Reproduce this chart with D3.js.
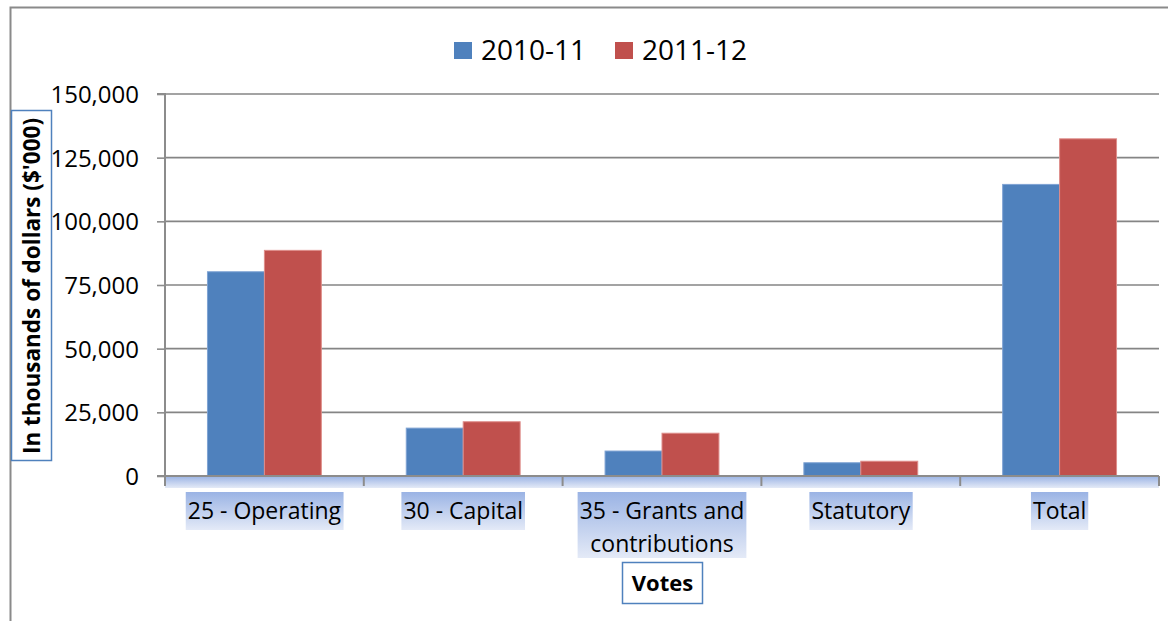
<!DOCTYPE html>
<html>
<head>
<meta charset="utf-8">
<script src="https://cdn.jsdelivr.net/npm/d3@7"></script>
<style>
  html, body { margin: 0; padding: 0; background: #fff; }
  svg { display: block; }
  text { font-family: "Open Sans", "Noto Sans", sans-serif; fill: #000; }
</style>
</head>
<body>
<svg id="chart" width="1168" height="621"></svg>
<script>
const categories = [["25 - Operating"], ["30 - Capital"], ["35 - Grants and", "contributions"], ["Statutory"], ["Total"]];
const categoryKeys = ["25 - Operating", "30 - Capital", "35 - Grants and contributions", "Statutory", "Total"];
const seriesNames = ["2010-11", "2011-12"];
const values2010 = [80200, 18800, 9800, 5200, 114500];
const values2011 = [88600, 21300, 16800, 5800, 132400];
const yTicks = [0, 25000, 50000, 75000, 100000, 125000, 150000];
const colors = ["#4F81BD", "#C0504D"];
const yTitle = "In thousands of dollars ($'000)";
const xTitle = "Votes";

(function () {
const svg = d3.select("#chart");
const pLeft = 165, pRight = 1159, pTop = 94, pBottom = 476;

const defs = svg.append("defs");
const grad = defs.append("linearGradient").attr("id", "hl").attr("x1", 0).attr("y1", 0).attr("x2", 0).attr("y2", 1);
grad.append("stop").attr("offset", "0%").attr("stop-color", "#9AB3E4");
grad.append("stop").attr("offset", "100%").attr("stop-color", "#E4EAF7");

// outer chart border
svg.append("path").attr("d", "M10.5,621 L10.5,7.5 L1168,7.5").attr("fill", "none").attr("stroke", "#8a8a8a").attr("stroke-width", 2);

const x0 = d3.scaleBand().domain(categoryKeys).range([pLeft, pRight]).padding(0);
const x1 = d3.scaleBand().domain(seriesNames).range([x0.bandwidth() * 0.2136, x0.bandwidth() * 0.7864]).padding(0);
const y = d3.scaleLinear().domain([0, 150000]).range([pBottom, pTop]);

// gridlines
svg.append("g").selectAll("line").data(yTicks.filter(d => d > 0)).join("line")
  .attr("x1", pLeft).attr("x2", pRight)
  .attr("y1", d => y(d)).attr("y2", d => y(d))
  .attr("stroke", "#858585").attr("stroke-width", 1.6);

// axis band below x-axis
svg.append("rect").attr("x", pLeft).attr("y", pBottom).attr("width", pRight - pLeft).attr("height", 12).attr("fill", "url(#hl)");

// bars
const data = categoryKeys.map((c, i) => ({ c, vals: [values2010[i], values2011[i]] }));
const g = svg.append("g").selectAll("g").data(data).join("g").attr("transform", d => `translate(${x0(d.c)},0)`);
g.selectAll("rect").data(d => d.vals.map((v, j) => ({ s: seriesNames[j], v, j }))).join("rect")
  .attr("x", d => x1(d.s)).attr("width", x1.bandwidth())
  .attr("y", d => y(d.v)).attr("height", d => y(0) - y(d.v))
  .attr("fill", d => colors[d.j])
  .attr("stroke", d => d.j === 0 ? "#7fa3d3" : "#de8d8a").attr("stroke-width", 1);

// y axis
const yAxis = d3.axisLeft(y).tickValues(yTicks).tickSize(8).tickPadding(18).tickFormat(d3.format(","));
const ya = svg.append("g").attr("transform", `translate(${pLeft},0)`).call(yAxis);
ya.select(".domain").attr("stroke", "#8c8c8c").attr("stroke-width", 2).attr("d", `M-8,${pTop}H0V${pBottom}H-8`);
ya.selectAll(".tick line").attr("stroke", "#8c8c8c").attr("stroke-width", 1.6);
ya.selectAll(".tick text").style("font-size", "24px").style("font-family", "'Open Sans', sans-serif").attr("fill", "#000").attr("dy", "0.36em");

// x axis line and ticks
const xa = svg.append("g");
xa.append("line").attr("x1", pLeft).attr("x2", pRight).attr("y1", pBottom).attr("y2", pBottom).attr("stroke", "#8c8c8c").attr("stroke-width", 2);
const bounds = categoryKeys.map(c => x0(c)).concat([pRight]);
xa.selectAll("line.t").data(bounds).join("line").attr("class", "t")
  .attr("x1", d => d).attr("x2", d => d).attr("y1", pBottom).attr("y2", pBottom + 10)
  .attr("stroke", "#8c8c8c").attr("stroke-width", 2);

// category labels with highlight
const lab = svg.append("g").selectAll("g").data(categories).join("g")
  .attr("transform", (d, i) => `translate(${x0(categoryKeys[i]) + x0.bandwidth() / 2},0)`);
lab.each(function (lines) {
  const gg = d3.select(this);
  const bg = gg.append("rect");
  const t = gg.append("text").attr("text-anchor", "middle").style("font-size", "23px");
  lines.forEach((ln, k) => t.append("tspan").attr("x", 0).attr("y", 519 + k * 33).text(ln));
  const bb = t.node().getBBox();
  bg.attr("x", bb.x - 2).attr("y", 492).attr("width", bb.width + 4).attr("height", 38 + (lines.length - 1) * 28).attr("fill", "url(#hl)");
});

// x title
const vt = svg.append("g");
vt.append("rect").attr("x", 622.5).attr("y", 562.5).attr("width", 80).attr("height", 41).attr("fill", "#fff").attr("stroke", "#4F81BD").attr("stroke-width", 1.5);
vt.append("text").attr("x", 662.5).attr("y", 591).attr("text-anchor", "middle").style("font-size", "22px").style("font-weight", "bold").text(xTitle);

// y title
const yt = svg.append("g");
yt.append("rect").attr("x", 11.5).attr("y", 110.5).attr("width", 40).attr("height", 350).attr("fill", "#fff").attr("stroke", "#4F81BD").attr("stroke-width", 1.5);
yt.append("text").attr("transform", "translate(40,286) rotate(-90)").attr("text-anchor", "middle").style("font-size", "22.5px").style("font-weight", "bold").text(yTitle);

// legend
const leg = svg.append("g");
const legX = [454, 615];
seriesNames.forEach((s, i) => {
  leg.append("rect").attr("x", legX[i]).attr("y", 42).attr("width", 18).attr("height", 17).attr("fill", colors[i]);
  leg.append("text").attr("x", legX[i] + 27).attr("y", 60).style("font-size", "28px").text(s);
});
})();
</script>
</body>
</html>
